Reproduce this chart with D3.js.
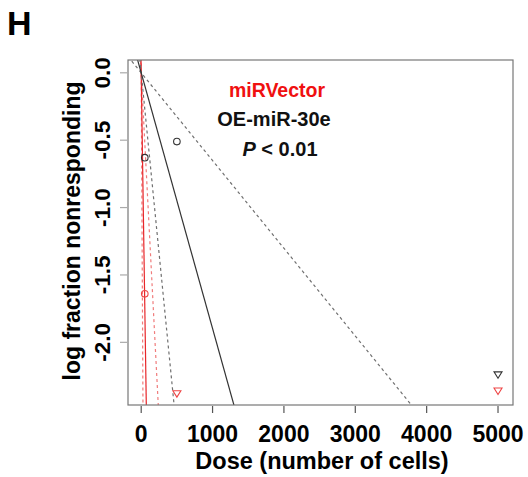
<!DOCTYPE html>
<html><head><meta charset="utf-8">
<script src="https://cdn.jsdelivr.net/npm/d3@7"></script>
<style>body{margin:0;background:#fff;} text{font-family:"Liberation Sans",Arial,sans-serif;}</style>
</head><body>
<svg id="c" width="528" height="477"></svg>
<script>
// Groups (ELDA limiting dilution)
const groups = ["miRVector", "OE-miR-30e"];
const groupColors = ["#e8262a", "#333333"];
const dashColors = ["#f07c7c", "#707070"];
// 1/frequency estimates: [estimate, lower-CI, upper-CI] (cells per responder)
const freqEstimate = [29, 527];
const freqLower = [97, 1536];
const freqUpper = [10, 187];
// observed points
const pointDose = [50, 500, 5000, 50, 500, 5000];
const pointY = [-1.64, -2.38, -2.36, -0.63, -0.51, -2.24];
const pointGroup = [0, 0, 0, 1, 1, 1];
const pointShape = ["circle", "triangle", "triangle", "circle", "circle", "triangle"];
const xTicks = [0, 1000, 2000, 3000, 4000, 5000];
const yTicks = [0, -0.5, -1.0, -1.5, -2.0];

const svg = d3.select("#c");
const L = 128, R = 513, T = 60, B = 405;
const x = d3.scaleLinear().domain([-185, 5210]).range([L, R]);
const y = d3.scaleLinear().domain([-2.465, 0.095]).range([B, T]);

svg.append("defs").append("clipPath").attr("id", "clip")
  .append("rect").attr("x", L).attr("y", T).attr("width", R - L).attr("height", B - T);

const g = svg.append("g").attr("clip-path", "url(#clip)");
function abline(f, color, dash, w) {
  const x0 = -185, x1 = 5210;
  g.append("line")
    .attr("x1", x(x0)).attr("y1", y(-x0 / f))
    .attr("x2", x(x1)).attr("y2", y(-x1 / f))
    .attr("stroke", color).attr("stroke-width", w)
    .attr("stroke-dasharray", dash);
}
groups.forEach((gr, i) => {
  abline(freqLower[i], dashColors[i], "3,3", 1.2);
  abline(freqUpper[i], dashColors[i], "3,3", 1.2);
  abline(freqEstimate[i], groupColors[i], null, 1.2);
});

// points
pointDose.forEach((d, i) => {
  const cx = x(d), cy = y(pointY[i]);
  const col = pointGroup[i] === 0 ? "#ee4444" : "#333";
  if (pointShape[i] === "circle") {
    svg.append("circle").attr("cx", cx).attr("cy", cy).attr("r", 3.3)
      .attr("fill", "none").attr("stroke", col).attr("stroke-width", 1.1);
  } else {
    const s = 4;
    svg.append("path").attr("d", `M${cx - s},${cy - s * 0.7}L${cx + s},${cy - s * 0.7}L${cx},${cy + s * 0.9}Z`)
      .attr("fill", "none").attr("stroke", col).attr("stroke-width", 1.1);
  }
});

// box
svg.append("rect").attr("x", L).attr("y", T).attr("width", R - L).attr("height", B - T)
  .attr("fill", "none").attr("stroke", "#777").attr("stroke-width", 1.2);

// x axis
const xa = svg.append("g");
xTicks.forEach(t => {
  xa.append("line").attr("x1", x(t)).attr("x2", x(t)).attr("y1", B + 1).attr("y2", B + 8)
    .attr("stroke", "#555").attr("stroke-width", 1.2);
  xa.append("text").attr("x", x(t)).attr("y", 442).attr("text-anchor", "middle")
    .attr("font-size", 23).attr("font-weight", "bold").text(d3.format("d")(t));
});
svg.append("text").attr("x", 322).attr("y", 469).attr("text-anchor", "middle")
  .attr("font-size", 23.5).attr("font-weight", "bold").text("Dose (number of cells)");

// y axis
yTicks.forEach(t => {
  svg.append("line").attr("x1", L - 8).attr("x2", L - 1).attr("y1", y(t)).attr("y2", y(t))
    .attr("stroke", "#aaa").attr("stroke-width", 1.2);
  svg.append("text").attr("transform", `translate(110,${y(t)}) rotate(-90)`)
    .attr("text-anchor", "middle").attr("font-size", 22.5).attr("font-weight", "bold")
    .text(d3.format(".1f")(t).replace("−", "-"));
});
svg.append("text").attr("transform", `translate(80,231) rotate(-90)`)
  .attr("text-anchor", "middle").attr("font-size", 23).attr("font-weight", "bold")
  .text("log fraction nonresponding");

// legend text
svg.append("text").attr("x", 277).attr("y", 97).attr("text-anchor", "middle")
  .attr("font-size", 19.5).attr("font-weight", "bold").attr("fill", "#f01010").text(groups[0]);
svg.append("text").attr("x", 274).attr("y", 126).attr("text-anchor", "middle")
  .attr("font-size", 20).attr("font-weight", "bold").attr("fill", "#111").text(groups[1]);
const pt = svg.append("text").attr("x", 280).attr("y", 156).attr("text-anchor", "middle")
  .attr("font-size", 20).attr("font-weight", "bold").attr("fill", "#111");
pt.append("tspan").attr("font-style", "italic").text("P");
pt.append("tspan").text(" < 0.01");

// panel letter
svg.append("text").attr("x", 7).attr("y", 35).attr("font-size", 34).attr("font-weight", "bold").text("H");
</script>
</body></html>
